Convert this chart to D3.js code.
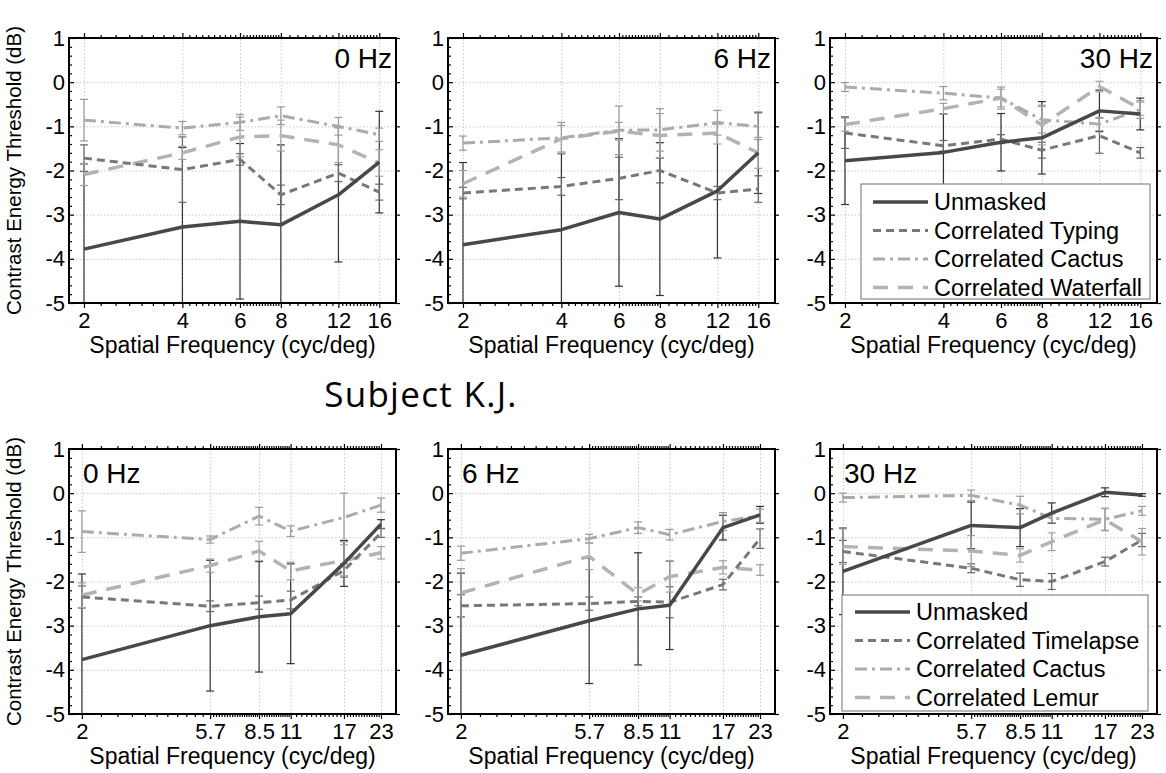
<!doctype html>
<html>
<head>
<script src="https://d3js.org/d3.v7.min.js"></script>
<style>
  body { margin: 0; background: #fff; }
</style>
</head>
<body>
<script>
// spatial frequencies (cyc/deg) for the two subjects/rows
var freqTop = [2, 4, 6, 8, 12, 16];
var freqBottom = [2, 5.7, 8.5, 11, 17, 23];
var yTicks = [-5, -4, -3, -2, -1, 0, 1];
var hzLabels = ["0 Hz", "6 Hz", "30 Hz"];
var namesTop = ["Unmasked", "Correlated Typing", "Correlated Cactus", "Correlated Waterfall"];
var namesBottom = ["Unmasked", "Correlated Timelapse", "Correlated Cactus", "Correlated Lemur"];

// thresholds (dB): rows = unmasked, typing/timelapse, cactus, waterfall/lemur
var top0 = [[-3.78, -3.28, -3.15, -3.23, -2.55, -1.81],
            [-1.72, -1.98, -1.75, -2.55, -2.06, -2.49],
            [-0.86, -1.04, -0.91, -0.76, -1.0, -1.19],
            [-2.09, -1.6, -1.24, -1.21, -1.42, -1.83]];
var top0Err = [[1.93, 1.8, 1.76, 1.81, 1.52, 1.15],
               [0.3, 0.74, 0.13, 0.22, 0.19, 0.18],
               [0.47, 0.15, 0.18, 0.2, 0.2, 0.15],
               [0.25, 0.15, 0.45, 0.35, 0.4, 0.3]];
var top6 = [[-3.68, -3.34, -2.95, -3.10, -2.46, -1.60],
            [-2.51, -2.36, -2.18, -2.0, -2.51, -2.42],
            [-1.38, -1.26, -1.09, -1.08, -0.92, -1.0],
            [-2.3, -1.28, -1.11, -1.21, -1.15, -1.6]];
var top6Err = [[1.86, 1.72, 1.67, 1.73, 1.52, 0.92],
               [0.13, 0.2, 0.48, 0.28, 0.15, 0.3],
               [0.16, 0.35, 0.55, 0.48, 0.28, 0.3],
               [0.3, 0.3, 0.2, 0.5, 0.25, 0.35]];
var top30 = [[-1.78, -1.59, -1.36, -1.26, -0.65, -0.72],
             [-1.15, -1.44, -1.29, -1.54, -1.21, -1.6],
             [-0.11, -0.25, -0.36, -0.85, -0.95, -0.62],
             [-0.96, -0.6, -0.36, -0.97, -0.1, -0.6]];
var top30Err = [[0.99, 0.87, 0.65, 0.82, 0.47, 0.36],
                [0.35, 0.12, 0.1, 0.18, 0.4, 0.12],
                [0.1, 0.15, 0.25, 0.3, 0.15, 0.2],
                [0.15, 0.12, 0.2, 0.45, 0.12, 0.15]];
var bot0 = [[-3.77, -3.0, -2.8, -2.73, -1.59, -0.7],
            [-2.35, -2.56, -2.48, -2.42, -1.75, -0.9],
            [-0.87, -1.05, -0.52, -0.86, -0.55, -0.27],
            [-2.31, -1.64, -1.31, -1.76, -1.52, -1.35]];
var bot0Err = [[1.94, 1.48, 1.25, 1.13, 0.52, 0.1],
               [0.25, 0.12, 0.15, 0.2, 0.15, 0.1],
               [0.47, 0.08, 0.2, 0.12, 0.55, 0.16],
               [0.28, 0.15, 0.22, 0.2, 0.35, 0.14]];
var bot6 = [[-3.67, -2.89, -2.62, -2.54, -0.78, -0.49],
            [-2.55, -2.5, -2.45, -2.47, -2.07, -1.03],
            [-1.36, -1.03, -0.78, -0.94, -0.64, -0.51],
            [-2.26, -1.43, -2.29, -1.89, -1.68, -1.74]];
var bot6Err = [[1.86, 1.42, 1.27, 1.0, 0.28, 0.19],
               [0.25, 0.15, 0.1, 0.35, 0.12, 0.22],
               [0.16, 0.1, 0.13, 0.12, 0.2, 0.15],
               [0.55, 0.3, 0.15, 0.35, 0.15, 0.12]];
var bot30 = [[-1.77, -0.73, -0.78, -0.45, 0.02, -0.04],
             [-1.32, -1.7, -1.96, -2.0, -1.55, -1.06],
             [-0.1, -0.05, -0.27, -0.57, -0.59, -0.4],
             [-1.21, -1.31, -1.41, -1.1, -0.6, -1.1]];
var bot30Err = [[0.98, 0.53, 0.43, 0.23, 0.1, 0.03],
                [0.25, 0.1, 0.15, 0.18, 0.1, 0.15],
                [0.1, 0.12, 0.2, 0.1, 0.25, 0.1],
                [0.4, 0.35, 0.15, 0.2, 0.25, 0.3]];

// line looks for the 4 series
var styles = [
  {color: "#484848", err: "#333", width: 3.5, dash: null},
  {color: "#787878", err: "#666", width: 3, dash: "8,5"},
  {color: "#ababab", err: "#999", width: 3, dash: "12,5,3,5"},
  {color: "#b3b3b3", err: "#a0a0a0", width: 3.5, dash: "15,10"}
];

var sans = "Liberation Sans, Arial, sans-serif";
var W = 1166, H = 773;
var pw = 327, ph = 265;
var colX = [69, 448, 830];
var rowY = [38, 449];

var svg = d3.select("body").append("svg")
  .attr("width", W).attr("height", H)
  .attr("font-family", sans);

// linear subdivisions between major ticks, like the original axis
function minorTicks(majors, counts) {
  var out = [];
  for (var i = 0; i < majors.length - 1; i++) {
    var a = majors[i], b = majors[i + 1], n = counts[i];
    for (var k = 1; k < n; k++) out.push(a + (b - a) * k / n);
  }
  return out;
}

var minorY = d3.range(-5, 1.001, 0.2).filter(function(v) { return Math.abs(v - Math.round(v)) > 0.01; });

function drawPanel(row, col, freqs, domain, values, errs, minorCounts) {
  var g = svg.append("g")
    .attr("transform", "translate(" + colX[col] + "," + rowY[row] + ")");

  var x = d3.scaleLog().domain(domain).range([0, pw]);
  var y = d3.scaleLinear().domain([-5, 1]).range([ph, 0]);
  var minorX = minorTicks(freqs, minorCounts);

  // grid
  g.append("g").attr("class", "grid")
    .attr("transform", "translate(0," + ph + ")")
    .call(d3.axisBottom(x).tickValues(freqs).tickSize(-ph).tickFormat(""));
  g.append("g").attr("class", "grid")
    .call(d3.axisLeft(y).tickValues(yTicks).tickSize(-pw).tickFormat(""));
  g.selectAll(".grid .domain").remove();
  g.selectAll(".grid line")
    .attr("stroke", "#c8c8c8").attr("stroke-width", 1).attr("stroke-dasharray", "1.5,2");

  var clipId = "clip" + row + col;
  g.append("clipPath").attr("id", clipId)
    .append("rect").attr("width", pw).attr("height", ph);
  var plot = g.append("g").attr("clip-path", "url(#" + clipId + ")");

  // error bars
  values.forEach(function(vals, s) {
    var st = styles[s];
    vals.forEach(function(v, i) {
      var cx = x(freqs[i]), lo = y(v - errs[s][i]), hi = y(v + errs[s][i]);
      plot.append("line").attr("x1", cx).attr("x2", cx).attr("y1", lo).attr("y2", hi)
        .attr("stroke", st.err).attr("stroke-width", 1.2);
      [lo, hi].forEach(function(yy) {
        plot.append("line").attr("x1", cx - 4).attr("x2", cx + 4).attr("y1", yy).attr("y2", yy)
          .attr("stroke", st.err).attr("stroke-width", 1.2);
      });
    });
  });

  // lines, unmasked drawn last so it sits on top
  var line = d3.line().x(function(d, i) { return x(freqs[i]); }).y(function(d) { return y(d); });
  for (var s = values.length - 1; s >= 0; s--) {
    plot.append("path").datum(values[s])
      .attr("d", line)
      .attr("fill", "none")
      .attr("stroke", styles[s].color)
      .attr("stroke-width", styles[s].width)
      .attr("stroke-dasharray", styles[s].dash)
      .attr("stroke-linejoin", "round");
  }

  // axes
  g.append("g").attr("transform", "translate(0," + ph + ")")
    .call(d3.axisBottom(x).tickValues(minorX).tickSize(3).tickFormat(""));
  g.append("g").attr("transform", "translate(0," + ph + ")")
    .call(d3.axisBottom(x).tickValues(freqs).tickSize(5).tickPadding(4).tickFormat(function(d) { return d; }));
  g.append("g").call(d3.axisTop(x).tickValues(minorX).tickSize(3).tickFormat(""));
  g.append("g").call(d3.axisTop(x).tickValues(freqs).tickSize(5).tickFormat(""));

  g.append("g").call(d3.axisRight(y).tickValues(minorY).tickSize(3).tickFormat(""));
  g.append("g").call(d3.axisRight(y).tickValues(yTicks).tickSize(5).tickFormat(""));
  g.append("g")
    .call(d3.axisLeft(y).tickValues(yTicks).tickSize(0).tickPadding(4).tickFormat(function(d) { return String(d); }));
  g.append("g").attr("transform", "translate(" + pw + ",0)")
    .call(d3.axisRight(y).tickValues(yTicks).tickSize(4).tickFormat(""));

  g.selectAll(".domain").remove();
  g.selectAll(".tick line").filter(function() { return !this.closest(".grid"); })
    .attr("stroke", "#000").attr("stroke-width", 1.2);
  g.selectAll(".tick text").attr("font-size", 22).attr("fill", "#000")
    .attr("font-family", sans);

  // frame
  g.append("rect").attr("width", pw).attr("height", ph)
    .attr("fill", "none").attr("stroke", "#000").attr("stroke-width", 2);

  // frequency label
  var hz = g.append("text").text(hzLabels[col]).attr("font-size", 28);
  if (row === 0) hz.attr("x", pw - 4).attr("y", 30).attr("text-anchor", "end");
  else hz.attr("x", 14).attr("y", 34);

  // x label
  g.append("text").text("Spatial Frequency (cyc/deg)")
    .attr("x", pw / 2).attr("y", ph + 50).attr("text-anchor", "middle").attr("font-size", 23);

  // y label on left column only
  if (col === 0) {
    g.append("text").text("Contrast Energy Threshold (dB)")
      .attr("transform", "translate(" + (-48) + "," + (ph / 2) + ") rotate(-90)")
      .attr("text-anchor", "middle").attr("font-size", 20.5);
  }
  return g;
}

function drawLegend(g, names, box) {
  var lg = g.append("g").attr("transform", "translate(" + box.x + "," + box.y + ")");
  lg.append("rect").attr("width", box.w).attr("height", box.h)
    .attr("fill", "#fff").attr("stroke", "#888").attr("stroke-width", 1.2);
  names.forEach(function(n, i) {
    var yy = box.row0 + i * box.step;
    lg.append("line").attr("x1", box.lx).attr("x2", box.lx + 55).attr("y1", yy).attr("y2", yy)
      .attr("stroke", styles[i].color).attr("stroke-width", styles[i].width)
      .attr("stroke-dasharray", styles[i].dash);
    lg.append("text").text(n).attr("x", box.lx + 61).attr("y", yy).attr("dy", "0.36em")
      .attr("font-size", 23.5);
  });
}

var tops = [[top0, top0Err], [top6, top6Err], [top30, top30Err]];
var bots = [[bot0, bot0Err], [bot6, bot6Err], [bot30, bot30Err]];
var panelTop, panelBot;
tops.forEach(function(p, c) {
  panelTop = drawPanel(0, c, freqTop, [1.8, 18], p[0], p[1], [8, 10, 14, 8, 12]);
});
bots.forEach(function(p, c) {
  panelBot = drawPanel(1, c, freqBottom, [1.8, 26], p[0], p[1], [11, 20, 14, 12, 14]);
});

drawLegend(panelTop, namesTop, {x: 31, y: 146, w: 289, h: 115, row0: 18, step: 28.5, lx: 12});
drawLegend(panelBot, namesBottom, {x: 12, y: 146, w: 306, h: 116, row0: 17, step: 28.5, lx: 13});

svg.append("text").text("Subject K.J.")
  .attr("x", 421).attr("y", 407).attr("text-anchor", "middle")
  .attr("font-family", "Open Sans, Lato, sans-serif").attr("font-size", 35)
  .attr("letter-spacing", 1.3);
</script>
</body>
</html>
